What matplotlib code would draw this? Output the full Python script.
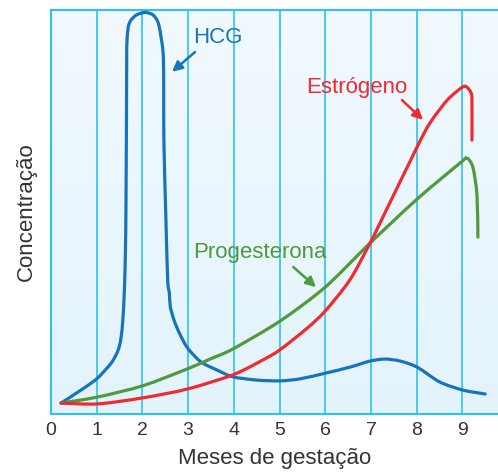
import numpy as np
import matplotlib
matplotlib.use('Agg')
import matplotlib.pyplot as plt
from matplotlib.path import Path
from matplotlib.patches import PathPatch

plt.rcParams['font.family'] = ['Liberation Sans', 'DejaVu Sans']

# values (months, relative concentration 0-100)
hcg_x = [0.22, 0.72, 1.02, 1.31, 1.43, 1.495, 1.54, 1.57, 1.60, 1.62, 1.635,
         1.645, 1.652, 1.656, 1.66, 1.69, 1.75, 1.875, 2.06, 2.23, 2.34, 2.40,
         2.46, 2.47, 2.51, 2.553, 2.59, 2.61, 2.69, 2.81, 2.99, 3.28, 3.63, 3.98,
         4.5, 5.01, 5.45, 6.0, 6.54, 6.98, 7.31, 7.64, 8.01, 8.51, 9.02, 9.50]
hcg_y = [2.7, 6.4, 8.9, 12.5, 14.8, 16.7, 19.5, 23.0, 29.0, 36.0, 45.0,
         60.0, 75.0, 87.6, 91.8, 95.8, 97.5, 98.8, 99.4, 98.8, 97.0, 93.8,
         87.6, 67.8, 50.0, 33.2, 29.9, 26.6, 23.3, 20.0, 16.3, 12.9, 10.9, 9.2,
         8.4, 8.2, 8.7, 10.1, 11.6, 13.1, 13.6, 13.1, 11.6, 7.9, 5.9, 4.95]

prog_x = [0.22, 1.02, 2.01, 2.99, 3.48, 3.98, 5.01, 6.0, 6.98, 8.01, 9.0, 9.10,
          9.23, 9.32, 9.34]
prog_y = [2.7, 4.2, 7.0, 11.2, 13.6, 16.1, 23.0, 31.4, 42.3, 53.2, 62.6, 63.4,
          61.1, 54.2, 43.8]

estr_x = [0.22, 1.02, 2.01, 2.99, 3.98, 4.64, 5.01, 5.60, 6.0, 6.54, 6.98, 7.20,
          8.01, 8.29, 8.67, 9.0, 9.10, 9.19, 9.21, 9.21]
estr_y = [2.7, 2.5, 4.0, 6.2, 9.7, 13.4, 15.9, 21.2, 25.5, 33.2, 42.3, 47.3,
          66.1, 72.0, 77.7, 80.9, 80.9, 79.5, 77.7, 67.8]

months = list(range(10))

blue = '#1674bb'
red = '#ee2b2f'
green = '#4f9a3c'
cyan = '#2cc3f0'


def smooth_path(xs, ys, tension=0.85):
    # cubic bezier through the read points (catmull-rom style), drawn by matplotlib
    p = np.column_stack([xs, ys]).astype(float)
    verts = [p[0]]
    codes = [Path.MOVETO]
    n = len(p)
    for i in range(n - 1):
        p0 = p[i - 1] if i > 0 else p[i]
        p1 = p[i]
        p2 = p[i + 1]
        p3 = p[i + 2] if i + 2 < n else p[i + 1]
        c1 = p1 + (p2 - p0) / 6 * tension
        c2 = p2 - (p3 - p1) / 6 * tension
        verts += [c1, c2, p2]
        codes += [Path.CURVE4] * 3
    return Path(verts, codes)


fig = plt.figure(figsize=(4.98, 4.75), dpi=100)
ax = fig.add_axes([51 / 498, 61 / 475, 447 / 498, 404 / 475])

xmax = 9.78
grad = np.linspace(0, 1, 256).reshape(-1, 1)
ax.imshow(grad, extent=[0, xmax, 0, 100], aspect='auto', origin='lower',
          cmap=matplotlib.colors.LinearSegmentedColormap.from_list('bg', ['#e3f3fc', '#f1f9fe']),
          zorder=0)

for m in months[1:]:
    ax.axvline(m, color=cyan, lw=1.2, zorder=1)

for xs, ys, c, z in [(hcg_x, hcg_y, blue, 3), (prog_x, prog_y, green, 4), (estr_x, estr_y, red, 5)]:
    ax.add_patch(PathPatch(smooth_path(xs, ys), facecolor='none', edgecolor=c,
                           lw=2.3, capstyle='round', zorder=z))

ax.text(3.65, 93.3, 'HCG', color=blue, fontsize=16, ha='center', va='center')
ax.text(6.70, 80.9, 'Estrógeno', color=red, fontsize=16, ha='center', va='center')
ax.text(4.57, 39.9, 'Progesterona', color=green, fontsize=16, ha='center', va='center')

for tail, head, c in [((3.15, 89.6), (2.65, 84.7), blue),
                      ((7.68, 77.7), (8.14, 72.8), red),
                      ((5.30, 36.4), (5.80, 31.4), green)]:
    ax.annotate('', xy=head, xytext=tail,
                arrowprops=dict(arrowstyle='-|>', color=c, lw=1.8, mutation_scale=15,
                                shrinkA=0, shrinkB=0))

ax.set_xlim(0, xmax)
ax.set_ylim(0, 100)
ax.set_xticks(months)
ax.set_xticklabels([str(m) for m in months], fontsize=14, color='#333333')
ax.set_yticks([])
ax.tick_params(axis='x', length=0, pad=6)

for side in ['left', 'bottom', 'top']:
    ax.spines[side].set_color(cyan)
    ax.spines[side].set_linewidth(1.5)
ax.spines['right'].set_visible(False)

ax.set_xlabel('Meses de gestação', fontsize=16, color='#333333', labelpad=6)
ax.set_ylabel('Concentração', fontsize=16, color='#333333', labelpad=10)

fig.savefig('out.png', dpi=100)
